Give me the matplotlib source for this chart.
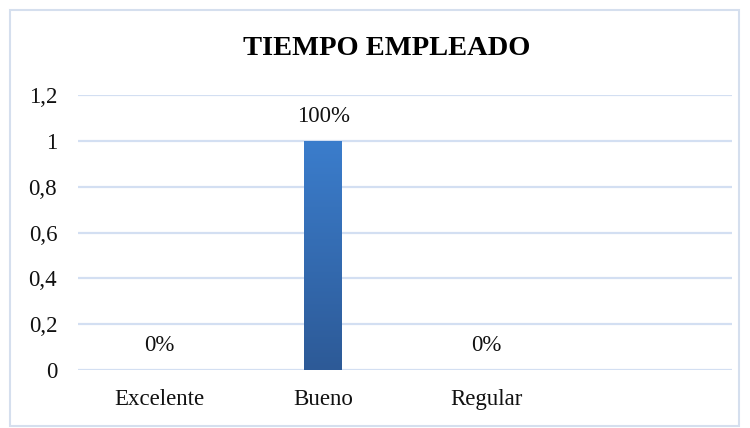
import numpy as np
import matplotlib.pyplot as plt
from matplotlib.patches import Rectangle

categories = ['Excelente', 'Bueno', 'Regular', '']
values = [0, 1, 0, np.nan]
labels = ['0%', '100%', '0%', '']
title = 'TIEMPO EMPLEADO'

plt.rcParams['font.family'] = ['Liberation Serif', 'DejaVu Serif']

fig = plt.figure(figsize=(7.5, 4.28), dpi=100)
ax = fig.add_axes([0.104, 0.1355, 0.872, 0.6415])

# outer frame of the chart area
fig.patches.append(Rectangle((10 / 750, 2 / 428), 729 / 750, 416 / 428,
                             transform=fig.transFigure, fill=False,
                             edgecolor='#D5DFEE', linewidth=1.5))

x = np.arange(len(categories))
bars = ax.bar(x, values, width=0.23, color='#3570B8', zorder=3)

# vertical gradient on the bars
grad = np.linspace(0, 1, 256).reshape(-1, 1)
cmap = plt.matplotlib.colors.LinearSegmentedColormap.from_list(
    'g', ['#2D5A97', '#3B7DCC'])
for b in bars:
    h = b.get_height()
    if not np.isfinite(h) or h == 0:
        continue
    x0 = b.get_x()
    im = ax.imshow(grad, extent=[x0, x0 + b.get_width(), 0, h], origin='lower',
                   aspect='auto', cmap=cmap, zorder=4)
    im.set_clip_path(b)

for xi, v, lab in zip(x, values, labels):
    if not np.isfinite(v):
        continue
    ax.annotate(lab, (xi, v), xytext=(0, 17.5), textcoords='offset points',
                ha='center', va='center', fontsize=16.5, color='#111111')

ax.set_xlim(-0.5, len(categories) - 0.5)
ax.set_ylim(0, 1.2)
ax.set_yticks(np.arange(0, 1.21, 0.2))
ax.set_yticklabels(['0', '0,2', '0,4', '0,6', '0,8', '1', '1,2'])
ax.set_xticks(x)
ax.set_xticklabels(categories)
ax.tick_params(axis='both', length=0, labelsize=16.5, colors='#111111')
ax.tick_params(axis='y', pad=15)
ax.tick_params(axis='x', pad=14)
ax.grid(axis='y', color='#D3DFF2', linewidth=1.6, zorder=0)
for s in ax.spines.values():
    s.set_visible(False)

fig.text(0.515, 0.887, title, ha='center', va='center', fontsize=20.5,
         fontweight='bold', color='#000000')

fig.savefig('out.png', dpi=100)
